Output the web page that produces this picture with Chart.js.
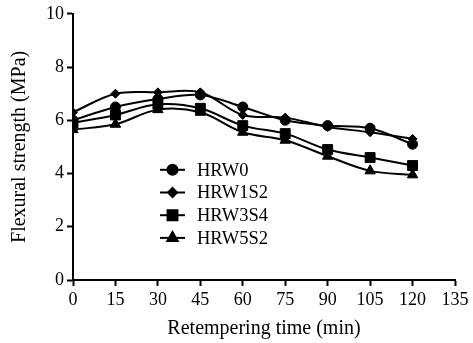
<!DOCTYPE html>
<html>
  <head>
    <title>Flexural strength</title>
    <script type="text/javascript" src="https://cdn.jsdelivr.net/npm/chart.js@4/dist/chart.umd.min.js"></script>
    <style>
      body { margin: 0; background: #fff; }
    </style>
  </head>
  <body>
    <canvas id="StrengthChart" width="473" height="343" style="display: block;"></canvas>
    <script>
      // retempering time (min)
      var times = [0, 15, 30, 45, 60, 75, 90, 105, 120];

      var seriesNames = ['HRW0', 'HRW1S2', 'HRW3S4', 'HRW5S2'];
      var hrw0   = [6.0, 6.5, 6.8, 6.95, 6.5, 6.0, 5.8, 5.7, 5.1];
      var hrw1s2 = [6.3, 7.0, 7.05, 7.05, 6.2, 6.1, 5.75, 5.55, 5.3];
      var hrw3s4 = [5.9, 6.2, 6.6, 6.45, 5.8, 5.5, 4.9, 4.6, 4.3];
      var hrw5s2 = [5.65, 5.85, 6.4, 6.3, 5.55, 5.25, 4.65, 4.1, 3.95];

      var xTicks = [0, 15, 30, 45, 60, 75, 90, 105, 120, 135];
      var yTicks = [0, 2, 4, 6, 8, 10];

      var font = 'Liberation Serif, Times New Roman, serif';

      function pairs(vals) {
        return vals.map(function(v, i) { return {x: times[i], y: v}; });
      }

      function makeSet(label, vals, style, radius) {
        return {
          label: label,
          data: pairs(vals),
          borderColor: '#000',
          backgroundColor: '#000',
          borderWidth: 2,
          pointStyle: style,
          pointRadius: radius,
          pointBorderWidth: 1,
          tension: 0.35,
          fill: false
        };
      }

      // legend drawn inside the plot area
      var innerLegend = {
        id: 'innerLegend',
        afterDraw: function(chart) {
          var ctx = chart.ctx;
          var x0 = chart.chartArea.left + 87;
          var y0 = chart.chartArea.top + 156;
          ctx.save();
          ctx.font = '18.5px ' + font;
          ctx.textBaseline = 'middle';
          ctx.fillStyle = '#000';
          chart.data.datasets.forEach(function(ds, i) {
            var y = y0 + i * 22.7;
            ctx.strokeStyle = '#000';
            ctx.lineWidth = 2;
            ctx.beginPath();
            ctx.moveTo(x0, y);
            ctx.lineTo(x0 + 25, y);
            ctx.stroke();
            Chart.helpers.drawPoint(ctx, {
              pointStyle: ds.pointStyle,
              radius: ds.pointRadius,
              borderWidth: 1,
              rotation: 0
            }, x0 + 12.5, y);
            ctx.fillText(ds.label, x0 + 37, y + 1);
          });
          ctx.restore();
        }
      };

      var ctx = document.getElementById('StrengthChart').getContext('2d');
      var chart = new Chart(ctx, {
        type: 'line',
        data: {
          datasets: [
            makeSet(seriesNames[0], hrw0, 'circle', 5),
            makeSet(seriesNames[1], hrw1s2, 'rectRot', 4.5),
            makeSet(seriesNames[2], hrw3s4, 'rect', 7),
            makeSet(seriesNames[3], hrw5s2, 'triangle', 6)
          ]
        },
        plugins: [innerLegend],
        options: {
          responsive: false,
          animation: false,
          layout: {
            padding: {left: 0, right: 18, top: 12, bottom: 0}
          },
          plugins: {
            legend: {display: false},
            tooltip: {enabled: false}
          },
          scales: {
            x: {
              type: 'linear',
              min: 0,
              max: 135,
              afterBuildTicks: function(axis) {
                axis.ticks = xTicks.map(function(v) { return {value: v}; });
              },
              afterFit: function(axis) { axis.height = 63; },
              grid: {
                drawOnChartArea: false,
                drawTicks: true,
                tickLength: 6,
                tickWidth: 2,
                color: '#000'
              },
              border: {color: '#000', width: 2},
              ticks: {
                color: '#000',
                padding: 3,
                maxRotation: 0,
                font: {family: font, size: 18}
              },
              title: {
                display: true,
                text: 'Retempering time (min)',
                color: '#000',
                padding: {top: 2, bottom: 2},
                font: {family: font, size: 20}
              }
            },
            y: {
              min: 0,
              max: 10,
              afterBuildTicks: function(axis) {
                axis.ticks = yTicks.map(function(v) { return {value: v}; });
              },
              afterFit: function(axis) { axis.width = 73; },
              grid: {
                drawOnChartArea: false,
                drawTicks: true,
                tickLength: 6,
                tickWidth: 2,
                color: '#000'
              },
              border: {color: '#000', width: 2},
              ticks: {
                color: '#000',
                padding: 3,
                font: {family: font, size: 18}
              },
              title: {
                display: true,
                text: 'Flexural strength (MPa)',
                color: '#000',
                padding: {top: 8, bottom: 4},
                font: {family: font, size: 20}
              }
            }
          }
        }
      });
    </script>
  </body>
</html>
